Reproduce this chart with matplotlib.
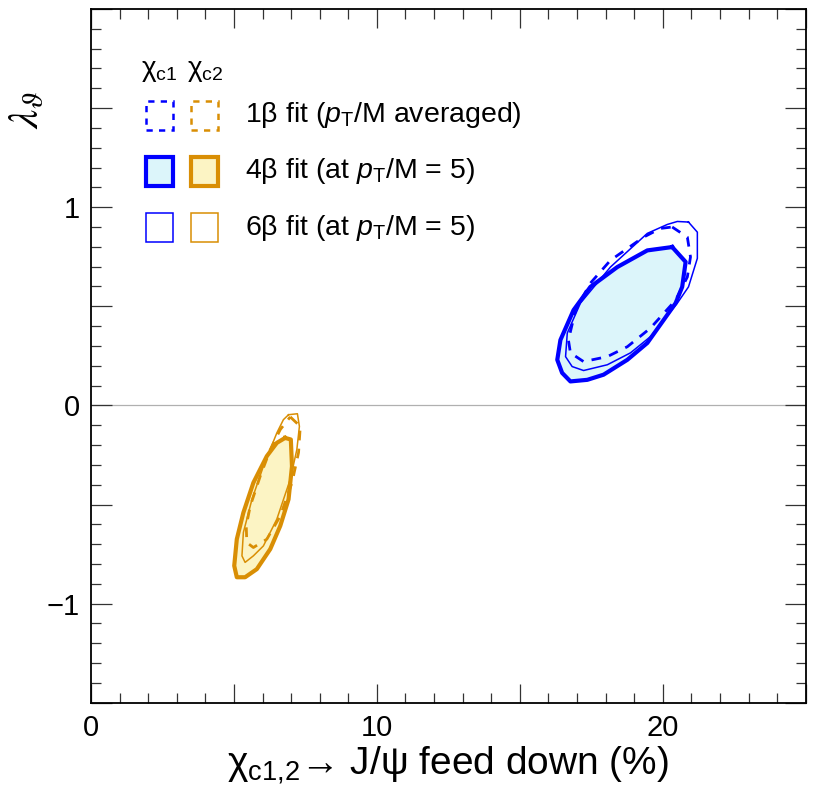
import numpy as np
import matplotlib.pyplot as plt
from matplotlib.patches import Rectangle
from matplotlib.ticker import MultipleLocator, FuncFormatter

plt.rcParams['font.family'] = ['Liberation Sans', 'DejaVu Sans']
plt.rcParams['mathtext.fontset'] = 'custom'
plt.rcParams['mathtext.rm'] = 'Liberation Sans'
plt.rcParams['mathtext.it'] = 'Liberation Sans:italic'
plt.rcParams['mathtext.bf'] = 'Liberation Sans:bold'

# contour outlines (feed down %, lambda_theta)
chic1_1b_x = [20.33, 20.86, 20.97, 20.86, 20.45, 19.57, 18.76, 18.06, 17.23, 16.77, 16.70, 16.95, 17.47, 18.17, 19.33, 19.92]
chic1_1b_y = [0.900, 0.849, 0.749, 0.648, 0.531, 0.390, 0.296, 0.246, 0.221, 0.265, 0.330, 0.481, 0.617, 0.732, 0.849, 0.893]

chic1_4b_x = [20.33, 20.80, 20.68, 20.45, 19.46, 18.76, 17.93, 17.36, 16.77, 16.48, 16.31, 16.42, 16.88, 17.47, 18.41, 19.46]
chic1_4b_y = [0.799, 0.724, 0.598, 0.516, 0.315, 0.230, 0.155, 0.129, 0.121, 0.164, 0.230, 0.330, 0.481, 0.598, 0.698, 0.782]

chic1_6b_x = [20.90, 21.21, 21.21, 20.90, 20.51, 19.57, 18.87, 18.06, 17.23, 16.83, 16.60, 16.66, 17.12, 18.17, 19.46, 20.16, 20.51]
chic1_6b_y = [0.925, 0.874, 0.742, 0.598, 0.516, 0.347, 0.265, 0.205, 0.176, 0.196, 0.246, 0.365, 0.516, 0.698, 0.868, 0.913, 0.928]

chic2_1b_x = [6.97, 7.32, 7.26, 7.03, 6.62, 6.15, 5.68, 5.45, 5.43, 5.57, 5.92, 6.27, 6.62]
chic2_1b_y = [-0.058, -0.106, -0.238, -0.390, -0.558, -0.675, -0.717, -0.692, -0.608, -0.508, -0.357, -0.223, -0.122]

chic2_4b_x = [6.79, 6.99, 7.03, 6.91, 6.62, 6.27, 5.80, 5.39, 5.10, 5.01, 5.10, 5.33, 5.68, 6.15, 6.50]
chic2_4b_y = [-0.164, -0.172, -0.307, -0.474, -0.608, -0.725, -0.826, -0.867, -0.867, -0.809, -0.675, -0.541, -0.390, -0.256, -0.189]

chic2_6b_x = [6.91, 7.22, 7.29, 7.20, 6.97, 6.50, 6.03, 5.68, 5.39, 5.28, 5.33, 5.63, 6.03, 6.50, 6.73]
chic2_6b_y = [-0.047, -0.042, -0.106, -0.223, -0.373, -0.574, -0.709, -0.759, -0.792, -0.759, -0.641, -0.474, -0.307, -0.139, -0.072]

legend_labels = [r'1β fit ($\it{p}_{\rm T}$/M averaged)',
                 r'4β fit (at $\it{p}_{\rm T}$/M = 5)',
                 r'6β fit (at $\it{p}_{\rm T}$/M = 5)']

blue = '#0000ff'
blue_fill = '#dcf5fa'
orange = '#d98e04'
orange_fill = '#fcf4c4'


def closed(xs, ys):
    return list(xs) + [xs[0]], list(ys) + [ys[0]]


fig = plt.figure(figsize=(8.14, 7.96), dpi=100)
ax = fig.add_axes([0.1118, 0.1172, 0.878, 0.8715])

ax.axhline(0, color='#b0b0b0', lw=0.9, zorder=1)

for col, fcol, c1, c4, c6 in [
        (blue, blue_fill, (chic1_1b_x, chic1_1b_y), (chic1_4b_x, chic1_4b_y), (chic1_6b_x, chic1_6b_y)),
        (orange, orange_fill, (chic2_1b_x, chic2_1b_y), (chic2_4b_x, chic2_4b_y), (chic2_6b_x, chic2_6b_y))]:
    x4, y4 = closed(*c4)
    ax.fill(x4, y4, color=fcol, zorder=2)
    x6, y6 = closed(*c6)
    ax.plot(x6, y6, color=col, lw=1.1, zorder=3)
    x1, y1 = closed(*c1)
    ax.plot(x1, y1, color=col, lw=2.0, dashes=(3.5, 3), zorder=3)
    ax.plot(x4, y4, color=col, lw=3.0, zorder=4)

ax.set_xlim(0, 25)
ax.set_ylim(-1.5, 2.0)

ax.xaxis.set_major_locator(MultipleLocator(5))
ax.xaxis.set_minor_locator(MultipleLocator(1))
ax.yaxis.set_major_locator(MultipleLocator(0.5))
ax.yaxis.set_minor_locator(MultipleLocator(0.1))
ax.xaxis.set_major_formatter(FuncFormatter(lambda v, p: '%d' % v if abs(v % 10) < 1e-6 and v < 25 else ''))
ax.yaxis.set_major_formatter(FuncFormatter(
    lambda v, p: ('\u2212%d' % -v if v < 0 else '%d' % v) if abs(v - round(v)) < 1e-6 and -1.5 < v < 2 else ''))
ax.tick_params(which='both', direction='in', top=True, right=True, labelsize=21, width=0.9, color='#333333')
ax.tick_params(which='major', length=15, pad=8)
ax.tick_params(which='minor', length=7.5)
ax.tick_params(axis='x', which='major', length=14)
for s in ax.spines.values():
    s.set_linewidth(1.3)

ax.set_xlabel(r'χ$_{\rm c1{,}2}$→ J/ψ feed down (%)', fontsize=28, labelpad=2)
fig.text(0.034, 0.862, r'$\lambda_{\vartheta}$', fontsize=31, rotation=90,
         math_fontfamily='stix', ha='center', va='center')

# legend drawn by hand
ax.text(0.095, 0.91, r'χ$_{\rm c1}$', transform=ax.transAxes, fontsize=20, ha='center', va='center')
ax.text(0.160, 0.91, r'χ$_{\rm c2}$', transform=ax.transAxes, fontsize=20, ha='center', va='center')
row_y = [0.826, 0.745, 0.664]
sq_w, sq_h = 0.038, 0.042
for i, (lab, ry) in enumerate(zip(legend_labels, row_y)):
    for cx, col, fcol in [(0.077, blue, blue_fill), (0.1395, orange, orange_fill)]:
        if i == 0:
            r = Rectangle((cx, ry), sq_w, sq_h, transform=ax.transAxes, fill=False,
                          edgecolor=col, lw=1.8, linestyle=(0, (2.5, 2.5)))
        elif i == 1:
            r = Rectangle((cx, ry), sq_w, sq_h, transform=ax.transAxes, facecolor=fcol,
                          edgecolor=col, lw=3.0)
        else:
            r = Rectangle((cx, ry), sq_w, sq_h, transform=ax.transAxes, fill=False,
                          edgecolor=col, lw=1.1)
        ax.add_patch(r)
    ax.text(0.2155, ry + sq_h / 2, lab, transform=ax.transAxes, fontsize=20.5, va='center')

fig.savefig('out.png', dpi=100)
